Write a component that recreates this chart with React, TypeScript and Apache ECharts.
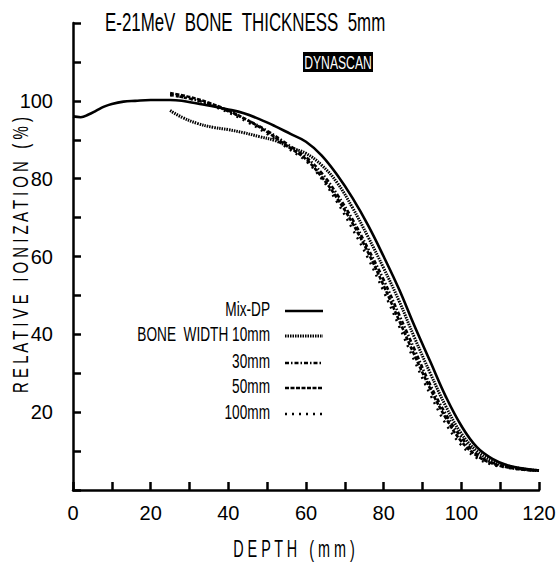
import React, { useEffect, useRef } from "react";
import * as echarts from "echarts";

const FONT = "Liberation Sans";

const depthMix = [0, 2, 4, 6, 8, 10, 13, 16, 20, 25, 28, 32, 36, 40, 44, 48, 52, 56, 60, 64, 68, 72, 76, 80, 84, 88, 92, 96, 100, 104, 108, 112, 116, 120];
const mixDP = [96, 95.8, 96.5, 97.5, 98.5, 99.2, 99.8, 100, 100.2, 100.2, 100, 99.3, 98.6, 97.8, 96.8, 95.3, 93.5, 91.5, 89.5, 86, 81, 75, 68, 60, 51.5, 42, 33, 24, 16.5, 11, 8, 6.3, 5.5, 5];

const depthBone = [25, 30, 35, 40, 45, 50, 55, 60, 64, 68, 72, 76, 80, 84, 88, 92, 96, 100, 104, 108, 112, 116, 120];
const depth10 = [25, 28, 32, 36, 40, 44, 48, 52, 56, 60, 64, 68, 72, 76, 80, 84, 88, 92, 96, 100, 104, 108, 112, 116, 120];
const bone10 = [97.5, 95.8, 94.2, 93.2, 92.6, 91.8, 90.8, 89.8, 88, 86.5, 83.5, 79, 72.5, 65, 57, 48.5, 39, 30, 21.5, 14.5, 10, 7.5, 6.2, 5.4, 5];
const bone30 = [101.5, 100.6, 99.2, 97.3, 95, 92.3, 89, 85.5, 81.5, 76, 69.5, 62, 54, 45, 36, 27, 19.5, 13.5, 9.2, 7, 6, 5.3, 5];
const bone50 = [102, 101, 99.5, 97.5, 95, 92, 88.5, 85, 80.5, 75, 68.5, 61, 52.5, 43.5, 34.5, 26, 18.5, 12.5, 8.8, 6.8, 5.8, 5.2, 5];
const bone100 = [101.5, 100.5, 99, 97, 94.5, 91.5, 88, 84.5, 80, 74, 67, 59.5, 51, 42, 33, 24.5, 17, 11.5, 8.2, 6.5, 5.7, 5.2, 5];

const legendLabels = ["Mix-DP", "BONE  WIDTH 10mm", "30mm", "50mm", "100mm"];
const xLabelValues = [0, 20, 40, 60, 80, 100, 120];
const yLabelValues = [20, 40, 60, 80, 100];

const pair = (xs: number[], ys: number[]) => xs.map((x, i) => [x, ys[i]]);

const styles: any[] = [
  { width: 2.6, type: "solid" },
  { width: 3, type: [1.5, 1] },
  { width: 2.6, type: [4, 2, 1.5, 2] },
  { width: 2.6, type: [4, 1.5] },
  { width: 2.4, type: [2, 5] },
];

export default function App() {
  const ref = useRef<HTMLDivElement>(null);
  useEffect(() => {
    if (!ref.current) return;
    const chart = echarts.init(ref.current, null, { renderer: "svg" });
    const seriesData = [
      pair(depthMix, mixDP),
      pair(depth10, bone10),
      pair(depthBone, bone30),
      pair(depthBone, bone50),
      pair(depthBone, bone100),
    ];
    const legendY = [309, 334, 361, 386, 412];
    const txt = (size: number, extra: any) => ({ fontSize: size, fontFamily: FONT, fill: "#000", ...extra });
    const graphic: any[] = [
      {
        type: "text",
        x: 105,
        y: 22,
        scaleX: 0.65,
        style: txt(26, { text: "E-21MeV  BONE  THICKNESS  5mm", verticalAlign: "middle" }),
      },
      {
        type: "rect",
        shape: { x: 303, y: 52, width: 70, height: 20 },
        style: { fill: "#000" },
      },
      {
        type: "text",
        x: 338,
        y: 62,
        scaleX: 0.64,
        style: txt(19, { text: "DYNASCAN", fill: "#fff", align: "center", verticalAlign: "middle" }),
      },
      {
        type: "text",
        x: 294,
        y: 549,
        scaleX: 0.6,
        style: txt(24, { text: "D E P T H   ( m m )", align: "center", verticalAlign: "middle" }),
      },
      {
        type: "text",
        x: 20,
        y: 255,
        rotation: Math.PI / 2,
        scaleX: 0.68,
        style: txt(22, { text: "R E L A T I V E   I O N I Z A T I O N   ( % )", align: "center", verticalAlign: "middle" }),
      },
    ];
    legendLabels.forEach((lab, i) => {
      graphic.push({
        type: "text",
        x: 270,
        y: legendY[i],
        scaleX: 0.65,
        style: txt(21, { text: lab, align: "right", verticalAlign: "middle" }),
      });
      const st = styles[i];
      graphic.push({
        type: "line",
        shape: { x1: 285, y1: legendY[i] + 2, x2: 323, y2: legendY[i] + 2 },
        style: { stroke: "#000", lineWidth: st.width, lineDash: st.type === "solid" ? null : st.type },
      });
    });
    chart.setOption({
      animation: false,
      backgroundColor: "#fff",
      grid: { left: 73, right: 17, top: 23, bottom: 77, containLabel: false, outerBoundsMode: "none" },
      xAxis: {
        type: "value",
        min: 0,
        max: 120,
        interval: 10,
        axisLine: { lineStyle: { color: "#000", width: 2.5 } },
        axisTick: { inside: true, length: 8, lineStyle: { color: "#000", width: 2.5 } },
        axisLabel: {
          fontFamily: FONT,
          fontSize: 20,
          color: "#000",
          margin: 13,
          formatter: (v: number) => (xLabelValues.includes(v) ? String(v) : ""),
        },
        splitLine: { show: false },
      },
      yAxis: {
        type: "value",
        min: 0,
        max: 120,
        interval: 10,
        axisLine: { lineStyle: { color: "#000", width: 2.5 } },
        axisTick: { inside: true, length: 8, lineStyle: { color: "#000", width: 2.5 } },
        axisLabel: {
          fontFamily: FONT,
          fontSize: 20,
          color: "#000",
          margin: 20,
          formatter: (v: number) => (yLabelValues.includes(v) ? String(v) : ""),
        },
        splitLine: { show: false },
      },
      graphic,
      series: seriesData.map((d, i) => ({
        type: "line",
        name: legendLabels[i],
        data: d,
        smooth: 0.4,
        showSymbol: false,
        lineStyle: { color: "#000", width: styles[i].width, type: styles[i].type },
      })),
    });
    return () => chart.dispose();
  }, []);
  return <div ref={ref} style={{ position: "fixed", left: 0, top: 0, width: 556, height: 567 }} />;
}
